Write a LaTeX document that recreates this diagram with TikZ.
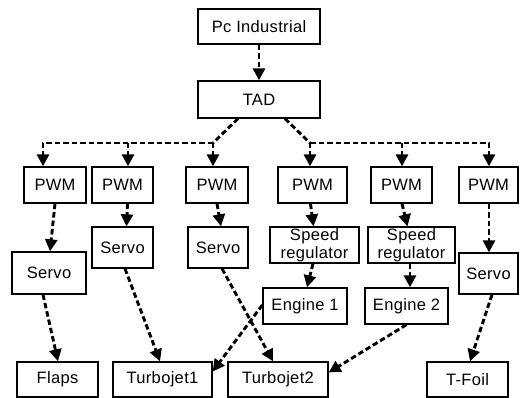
\documentclass[tikz,border=0pt]{standalone}
\usepackage{fontspec}
\setmainfont{Liberation Sans}[LetterSpace=2]
\usetikzlibrary{arrows.meta,calc}
\tikzset{
  box/.style={draw, line width=1.3pt, rectangle, inner sep=0pt, align=center,
    font=\fontsize{16.5}{18.5}\selectfont},
  dline/.style={line width=2.9pt, dash pattern=on 5.5pt off 3pt},
  arr/.style={dline, -{Triangle[length=12pt,width=12pt]}},
}
\begin{document}
\begin{tikzpicture}[x=1pt,y=-1pt]
\useasboundingbox (0,0) rectangle (520,398);
% row 0-1
\node[box, minimum width=122pt, minimum height=35pt] (pc) at (259,26.5) {Pc Industrial};
\node[box, minimum width=122pt, minimum height=37pt] (tad) at (259,99.5) {TAD};
% PWMs
\node[box, minimum width=62pt, minimum height=36pt] (pwm1) at (55,185) {PWM};
\node[box, minimum width=61pt, minimum height=36pt] (pwm2) at (122.5,185) {PWM};
\node[box, minimum width=62pt, minimum height=36pt] (pwm3) at (217,185) {PWM};
\node[box, minimum width=69pt, minimum height=36pt] (pwm4) at (312.5,185) {PWM};
\node[box, minimum width=61pt, minimum height=36pt] (pwm5) at (401.5,185) {PWM};
\node[box, minimum width=59pt, minimum height=36pt] (pwm6) at (488.5,185) {PWM};
% second row
\node[box, minimum width=74pt, minimum height=42pt] (servo1) at (49,273) {Servo};
\node[box, minimum width=61pt, minimum height=41pt] (servo2) at (122.5,247.5) {Servo};
\node[box, minimum width=60pt, minimum height=41pt] (servo3) at (218,247.5) {Servo};
\node[box, minimum width=89pt, minimum height=36pt] (sr1) at (314.5,245) {Speed\\regulator};
\node[box, minimum width=87pt, minimum height=36pt] (sr2) at (411.5,245) {Speed\\regulator};
\node[box, minimum width=59pt, minimum height=41pt] (servo6) at (488.5,273.5) {Servo};
\node[box, minimum width=84pt, minimum height=36pt] (eng1) at (305,306) {Engine 1};
\node[box, minimum width=83pt, minimum height=36pt] (eng2) at (406.5,306) {Engine 2};
% bottom row
\node[box, minimum width=81pt, minimum height=35pt] (flaps) at (57.5,379.5) {Flaps};
\node[box, minimum width=99pt, minimum height=35pt] (tj1) at (162.5,379.5) {Turbojet1};
\node[box, minimum width=100pt, minimum height=35pt] (tj2) at (278,379.5) {Turbojet2};
\node[box, minimum width=81pt, minimum height=35pt] (tfoil) at (467.5,379.5) {T-Foil};
% bus coordinates
\coordinate (bl) at (213,143);
\coordinate (b2) at (128,143);
\coordinate (lc) at (43,143);
\coordinate (br) at (310,143);
\coordinate (b5) at (402,143);
\coordinate (rc) at (489,143);
% connectors
\draw[arr] (pc.south) -- (tad.north);
\draw[dline] ([xshift=-21pt]tad.south) -- (bl);
\draw[dline] ([xshift=26pt]tad.south) -- (br);
\draw[arr] (bl) -- (lc) -- (lc |- pwm1.north);
\draw[arr] (b2) -- (b2 |- pwm2.north);
\draw[arr] (bl) -- (bl |- pwm3.north);
\draw[arr] (br) -- (rc) -- (rc |- pwm6.north);
\draw[arr] (br) -- (br |- pwm4.north);
\draw[arr] (b5) -- (b5 |- pwm5.north);
% row 1 -> 2
\draw[arr] (pwm1.south) -- ([xshift=1pt]servo1.north);
\draw[arr] ([xshift=5pt]pwm2.south) -- ([xshift=4pt]servo2.north);
\draw[arr] (pwm3.south) -- ([xshift=3pt]servo3.north);
\draw[arr] ([xshift=-2pt]pwm4.south) -- ([xshift=-1pt]sr1.north);
\draw[arr] ([xshift=0.5pt]pwm5.south) -- ([xshift=-4pt]sr2.north);
\draw[arr] ([xshift=0.5pt]pwm6.south) -- ([xshift=0.5pt]servo6.north);
% row 2 -> 3
\draw[arr] ([xshift=-1.5pt]sr1.south) -- ([xshift=2pt]eng1.north);
\draw[arr] ([xshift=-1.5pt]sr2.south) -- ([xshift=3.5pt]eng2.north);
\draw[arr] ([xshift=-6pt]servo1.south) -- ([xshift=0.5pt]flaps.north);
\draw[arr] ([xshift=2.5pt]servo2.south) -- ([xshift=-2.5pt]tj1.north);
\draw[arr] ([xshift=4pt]servo3.south) -- ([xshift=-5pt]tj2.north);
\draw[arr] ($(eng1.west)+(0,-1)$) -- ($(tj1.east)+(0,-8)$);
\draw[arr] (eng2.south) -- ($(tj2.east)+(0,-7)$);
\draw[arr] ([xshift=3.5pt]servo6.south) -- ([xshift=2.5pt]tfoil.north);
\end{tikzpicture}
\end{document}
